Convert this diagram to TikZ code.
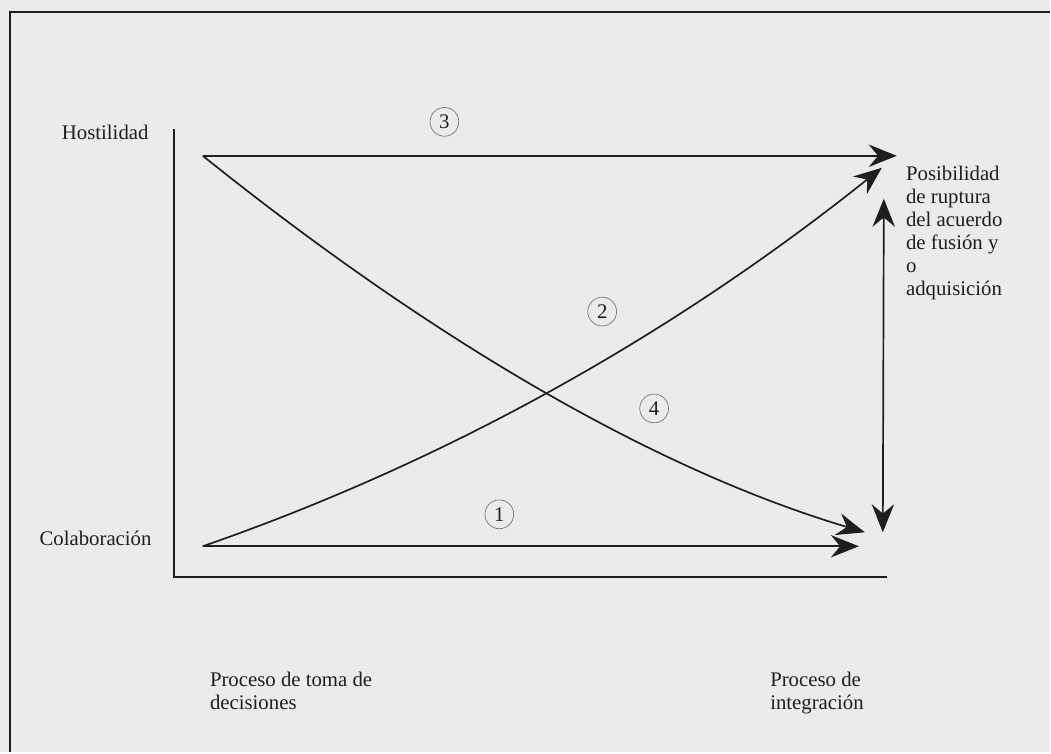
\documentclass[tikz,border=0pt]{standalone}
\usepackage{fontspec}
\setmainfont{Liberation Serif}
\usetikzlibrary{arrows.meta}

% ===== Colors =====
\definecolor{paper}{RGB}{235,235,235}
\definecolor{ink}{RGB}{30,30,30}
\definecolor{ringgray}{RGB}{120,120,120}

\begin{document}
\begin{tikzpicture}[
    x=0.025cm, y=-0.025cm,
    font=\fontsize{14.8}{16.4}\selectfont,
    text=ink,
    axisline/.style={draw=ink, line width=1.4pt},
    pathline/.style={draw=ink, line width=1.2pt},
    bigtip/.style={-{Stealth[length=7mm, width=5.6mm, inset=2.3mm]}},
    bothtips/.style={{Stealth[length=7mm, width=5.6mm, inset=2.3mm]}-{Stealth[length=7mm, width=5.6mm, inset=2.3mm]}},
    numring/.style={circle, draw=ringgray, line width=0.5pt, minimum size=7.2mm, inner sep=0pt},
    sidelabel/.style={anchor=east, inner sep=0pt},
    blocklabel/.style={anchor=north west, align=left, inner sep=0pt},
]

% ===== Page (scanned box, frame only on top and left) =====
\fill[paper] (0,0) rectangle (1051,753);
\draw[ink, line width=2pt] (10,753) -- (10,12) -- (1051,12);

% ===== Axes =====
\coordinate (origin) at (174,578);
\coordinate (ytop) at (174,129);
\coordinate (xend) at (888,578);
\draw[axisline] (ytop) -- (origin) -- (xend);

% ===== Start and end points of the four paths =====
\coordinate (hostil) at (203,156);
\coordinate (colab) at (203,547);
\coordinate (end3) at (898,156);
\coordinate (end2) at (883,168);
\coordinate (end4) at (866,533);
\coordinate (end1) at (860,547);
\coordinate (rupttop) at (885,199);
\coordinate (ruptbot) at (884,533);

% path 3: hostility stays
\draw[pathline, bigtip] (hostil) -- (end3);
% path 1: collaboration stays
\draw[pathline, bigtip] (colab) -- (end1);
% path 2: collaboration -> hostility
\draw[pathline, bigtip] (colab) .. controls (448,462) and (674,335) .. (end2);
% path 4: hostility -> collaboration
\draw[pathline, bigtip] (hostil) .. controls (440,346) and (661,472) .. (end4);
% range of possible break-up
\draw[pathline, bothtips] (ruptbot) -- (rupttop);

% ===== Circled path numbers =====
\node[numring] (n3) at (445,122) {3};
\node[numring] (n2) at (603,312) {2};
\node[numring] (n4) at (655,409) {4};
\node[numring] (n1) at (500,515) {1};

% ===== Labels =====
\node[sidelabel] (lhost) at (149,133) {Hostilidad};
\node[sidelabel] (lcolab) at (152,539) {Colaboración};

\node[blocklabel] (lrupt) at (907,166)
    {Posibilidad\\de ruptura\\del acuerdo\\de fusión y\\o\\adquisición};

\node[blocklabel] (ldecis) at (210,673) {Proceso de toma de\\decisiones};
\node[blocklabel] (linteg) at (771,673) {Proceso de\\integración};

\end{tikzpicture}
\end{document}
